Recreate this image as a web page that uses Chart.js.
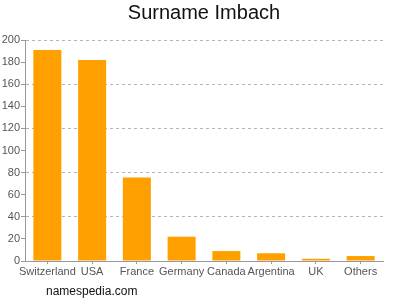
<!DOCTYPE html>
<html>
<head>
<meta charset="utf-8">
<script src="https://cdn.jsdelivr.net/npm/chart.js@4"></script>
<style>
  html,body{margin:0;padding:0;background:#fff;}
  #wrap{position:relative;width:400px;height:300px;}
  #title{position:absolute;left:8px;right:0;top:2px;text-align:center;font:20px "Liberation Sans",Arial,sans-serif;line-height:20px;color:#111;}
  #foot{position:absolute;left:46px;top:285px;font:12px "Liberation Sans",Arial,sans-serif;line-height:12px;color:#111;}
</style>
</head>
<body>
<div id="wrap">
  <canvas id="c" width="400" height="300"></canvas>
  <div id="title">Surname Imbach</div>
  <div id="foot">namespedia.com</div>
</div>
<script>
const categories = ["Switzerland","USA","France","Germany","Canada","Argentina","UK","Others"];
const counts = [191, 182, 75.5, 22, 9, 7, 2, 4.5];
const yTicks = [0,20,40,60,80,100,120,140,160,180,200];
const gridEvery = 40;

const font = {family:"'Liberation Sans', Arial, sans-serif", size:11};
new Chart(document.getElementById('c'), {
  type:'bar',
  data:{labels:categories, datasets:[{data:counts, backgroundColor:'#FFA000', borderWidth:0, barPercentage:0.626, categoryPercentage:1}]},
  options:{
    responsive:false, animation:false, devicePixelRatio:1,
    layout:{padding:{left:0,right:17,top:40,bottom:0}},
    plugins:{legend:{display:false}, tooltip:{enabled:false}},
    scales:{
      x:{
        grid:{display:true, drawOnChartArea:false, offset:false, tickLength:3, tickColor:'#999', color:'#999'},
        border:{display:true, color:'#999'},
        ticks:{font:font, color:'#555', padding:1, maxRotation:0, autoSkip:false},
        afterFit:(s)=>{s.height=39;}
      },
      y:{
        min:0, max:200,
        afterBuildTicks:(s)=>{s.ticks = yTicks.map(v=>({value:v}));},
        grid:{color:(ctx)=> (ctx.tick && ctx.tick.value % gridEvery === 0 && ctx.tick.value !== 0) ? '#b4b4b4' : 'rgba(0,0,0,0)',
              tickColor:'#999', tickLength:4},
        border:{display:true, color:'#999', dash:[3,3]},
        ticks:{font:font, color:'#555', padding:1},
        afterFit:(s)=>{s.width=25;}
      }
    }
  }
});
</script>
</body>
</html>
